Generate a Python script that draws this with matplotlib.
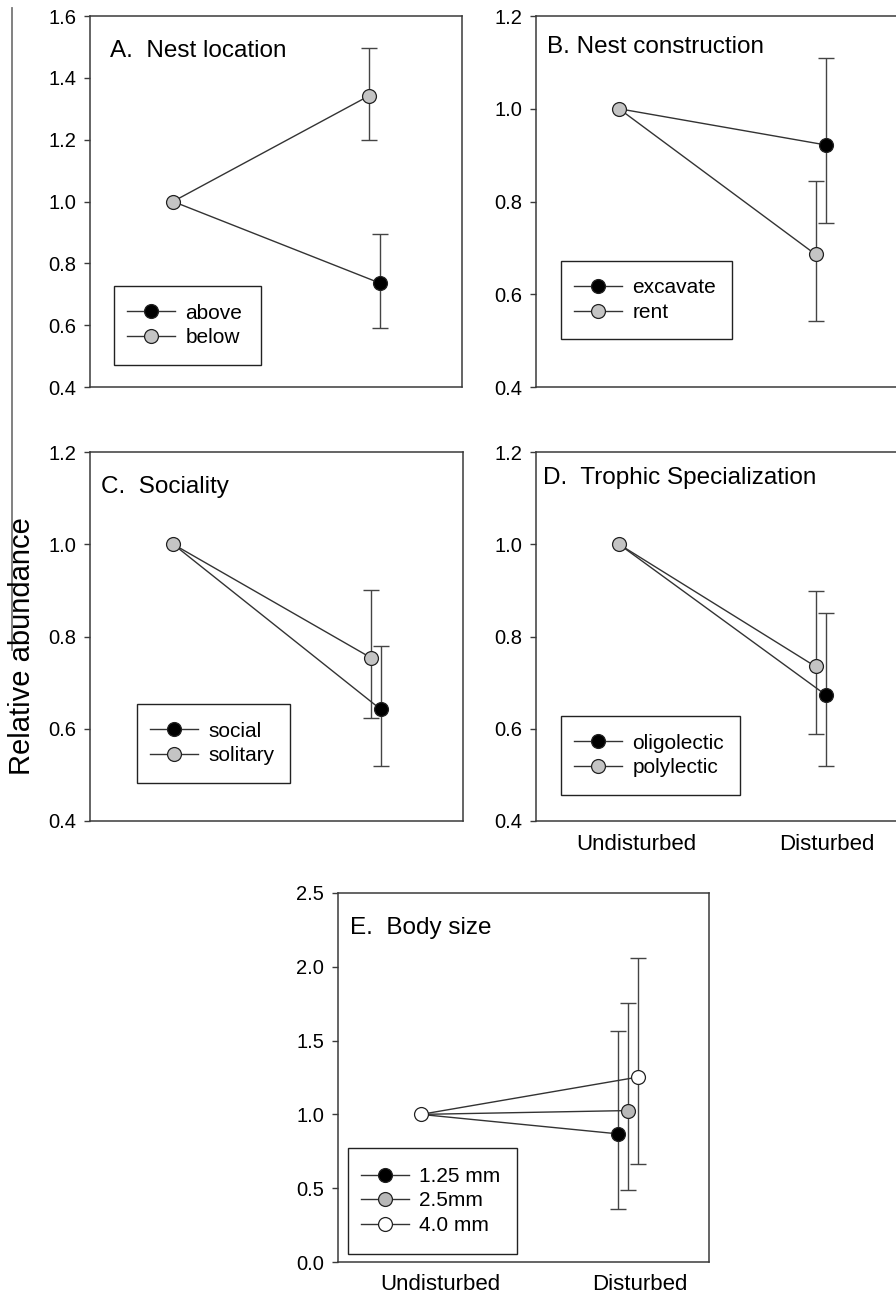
import numpy as np
import matplotlib.pyplot as plt
from matplotlib.lines import Line2D
from matplotlib.patches import Rectangle

plt.rcParams['font.family'] = ['Liberation Sans', 'DejaVu Sans']

W, H = 896, 1296

# ---- data (relative abundance, undisturbed = 1.0) ----
sites = ["Undisturbed", "Disturbed"]

a_labels = ["above", "below"]
a_mean = [0.736, 1.342]
a_lo = [0.592, 1.198]
a_hi = [0.896, 1.495]

b_labels = ["excavate", "rent"]
b_mean = [0.922, 0.686]
b_lo = [0.754, 0.543]
b_hi = [1.110, 0.845]

c_labels = ["social", "solitary"]
c_mean = [0.642, 0.754]
c_lo = [0.519, 0.624]
c_hi = [0.780, 0.900]

d_labels = ["oligolectic", "polylectic"]
d_mean = [0.673, 0.735]
d_lo = [0.520, 0.589]
d_hi = [0.851, 0.899]

e_labels = ["1.25 mm", "2.5mm", "4.0 mm"]
e_mean = [0.868, 1.026, 1.253]
e_lo = [0.361, 0.487, 0.665]
e_hi = [1.567, 1.758, 2.060]

fills2 = ["black", "#c4c4c4"]
fills3 = ["black", "#b8b8b8", "white"]
line_c = "#333333"
spine_c = "#3a3a3a"


def px_axes(l, t, r, b):
    return [l / W, 1 - b / H, (r - l) / W, (b - t) / H]


def panel(rect, title, title_xy, labels, mean, lo, hi, fills, offsets,
          ylim, yticks, xlim, leg_box, xticks=None, first_fill=None):
    ax = fig.add_axes(px_axes(*rect))
    lines = []
    for i in range(len(labels)):
        x2 = 2 + offsets[i]
        ax.plot([1, x2], [1, mean[i]], color=line_c, lw=1.0, zorder=2)
        ax.errorbar([x2], [mean[i]],
                    yerr=[[mean[i] - lo[i]], [hi[i] - mean[i]]],
                    fmt='none', ecolor="#444444", elinewidth=1.0,
                    capsize=5.5, capthick=1.0, zorder=1)
        ax.plot([x2], [mean[i]], 'o', ms=10, mfc=fills[i], mec="#222222",
                mew=0.9, zorder=4)
        h = Line2D([], [], color=line_c, lw=1.0, marker='o', ms=10,
                   mfc=fills[i], mec="#222222", mew=0.9)
        lines.append(h)
    ax.plot([1], [1], 'o', ms=10, mfc=first_fill, mec="#222222", mew=0.9,
            zorder=5)

    ax.set_xlim(*xlim)
    ax.set_ylim(*ylim)
    ax.set_yticks(yticks)
    ax.set_yticklabels(["%.1f" % v for v in yticks])
    ax.tick_params(axis='y', direction='out', length=4, width=1.0,
                   color=spine_c, labelsize=14.5, pad=6)
    if xticks is None:
        ax.set_xticks([])
    else:
        ax.set_xticks(xticks)
        ax.set_xticklabels(sites)
        ax.tick_params(axis='x', length=0, labelsize=16, pad=9)
    for s in ax.spines.values():
        s.set_color(spine_c)
        s.set_linewidth(1.1)

    ax.text(title_xy[0], title_xy[1], title, transform=ax.transAxes,
            fontsize=17.5, ha='left', va='top')

    # legend box (pixel layout converted to axes fraction)
    l, t, r, b = leg_box
    ax_l, ax_t, ax_r, ax_b = rect
    fx0 = (l - ax_l) / (ax_r - ax_l)
    fx1 = (r - ax_l) / (ax_r - ax_l)
    fy0 = (ax_b - b) / (ax_b - ax_t)
    fy1 = (ax_b - t) / (ax_b - ax_t)
    ax.add_patch(Rectangle((fx0, fy0), fx1 - fx0, fy1 - fy0,
                           transform=ax.transAxes, fill=False,
                           ec="#222222", lw=1.0, zorder=6))
    ax.legend(lines, labels, loc='center left',
              bbox_to_anchor=(fx0 + 13 / (ax_r - ax_l), (fy0 + fy1) / 2),
              frameon=False, fontsize=15, handlelength=2.3,
              handletextpad=0.5, labelspacing=0.27, borderpad=0,
              borderaxespad=0, numpoints=1)
    return ax


fig = plt.figure(figsize=(W / 100, H / 100), dpi=100)

xl = (0.588, 2.434)
panel((90, 16, 462, 387), "A.  Nest location", (0.054, 0.935),
      a_labels, a_mean, a_lo, a_hi, fills2, [0.027, -0.027],
      (0.4, 1.6), [0.4, 0.6, 0.8, 1.0, 1.2, 1.4, 1.6], xl,
      (114, 286, 261, 365), first_fill=fills2[1])
panel((536, 16, 908, 387), "B. Nest construction", (0.03, 0.945),
      b_labels, b_mean, b_lo, b_hi, fills2, [0.025, -0.025],
      (0.4, 1.2), [0.4, 0.6, 0.8, 1.0, 1.2], xl,
      (561, 261, 732, 339), first_fill=fills2[1])
panel((90, 452, 463, 821), "C.  Sociality", (0.03, 0.935),
      c_labels, c_mean, c_lo, c_hi, fills2, [0.027, -0.022],
      (0.4, 1.2), [0.4, 0.6, 0.8, 1.0, 1.2], xl,
      (137, 704, 290, 783), first_fill=fills2[1])
panel((536, 452, 908, 821), "D.  Trophic Specialization", (0.02, 0.96),
      d_labels, d_mean, d_lo, d_hi, fills2, [0.027, -0.025],
      (0.4, 1.2), [0.4, 0.6, 0.8, 1.0, 1.2], xl,
      (561, 716, 740, 795), xticks=[1.084, 2.032], first_fill=fills2[1])
panel((338, 893, 709, 1262), "E.  Body size", (0.032, 0.935),
      e_labels, e_mean, e_lo, e_hi, fills3, [-0.048, 0.0, 0.048],
      (0.0, 2.5), [0.0, 0.5, 1.0, 1.5, 2.0, 2.5], (0.6, 2.39),
      (348, 1148, 517, 1254), xticks=[1.093, 2.054], first_fill=fills3[2])

# shared y label and the stray rule at the far left
fig.text(22 / W, 1 - 646 / H, "Relative abundance", rotation=90,
         ha='center', va='center', fontsize=21)
fig.add_artist(Line2D([12 / W, 12 / W], [1 - 8 / H, 1 - 650 / H],
                      transform=fig.transFigure, color="#777777", lw=1.3))

fig.savefig("out.png", dpi=100)
